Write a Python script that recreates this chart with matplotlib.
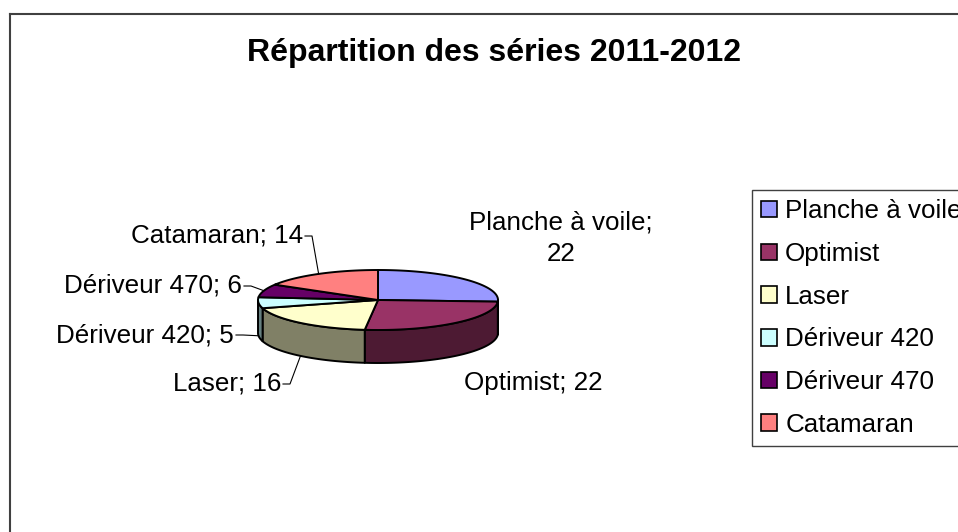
import numpy as np
import matplotlib.pyplot as plt
from matplotlib.patches import Polygon, Rectangle

plt.rcParams['font.family'] = ['Liberation Sans', 'DejaVu Sans']

# data
series = ['Planche à voile', 'Optimist', 'Laser', 'Dériveur 420', 'Dériveur 470', 'Catamaran']
counts = [22, 22, 16, 5, 6, 14]
colors = ['#9999FF', '#993366', '#FFFFCC', '#CCFFFF', '#660066', '#FF8080']
title = 'Répartition des séries 2011-2012'

# layout (pixel coords, y down)
W, H = 958, 532
cx, cy, rx, ry, depth = 378, 300, 120, 30, 33

# label placement: (x, y, ha, leader?)
lab_pos = {
    'Planche à voile': (561, 238, 'center', False),
    'Optimist': (533, 383, 'center', False),
    'Laser': (281, 384, 'right', True),
    'Dériveur 420': (234, 335, 'right', True),
    'Dériveur 470': (242, 286, 'right', True),
    'Catamaran': (303, 236, 'right', True),
}

fig = plt.figure(figsize=(W / 100, H / 100), dpi=100)
ax = fig.add_axes([0, 0, 1, 1])
ax.set_xlim(0, W)
ax.set_ylim(H, 0)
ax.axis('off')

# chart area frame (runs off right / bottom)
ax.plot([10, 10], [H + 5, 14], color='#404040', lw=1.5, solid_capstyle='projecting')
ax.plot([10, W + 5], [14, 14], color='#404040', lw=1.5, solid_capstyle='projecting')

ax.text(494, 53, title, ha='center', va='center', fontsize=23, fontweight='bold')


def pt(a, dy=0):
    # a = clockwise angle from 12 o'clock, degrees
    t = np.radians(90 - a)
    return cx + rx * np.cos(t), cy - ry * np.sin(t) + dy


def darker(c):
    c = c.lstrip('#')
    rgb = [int(c[i:i + 2], 16) / 255 * 0.5 for i in (0, 2, 4)]
    return tuple(rgb)


total = sum(counts)
bounds = np.concatenate([[0], np.cumsum(counts)]) / total * 360

# side walls (front half: 90..270 clockwise)
for i in range(len(counts)):
    a1, a2 = bounds[i], bounds[i + 1]
    s1, s2 = max(a1, 90), min(a2, 270)
    if s2 <= s1:
        continue
    aa = np.linspace(s1, s2, 60)
    top = [pt(a) for a in aa]
    bot = [pt(a, depth) for a in aa[::-1]]
    ax.add_patch(Polygon(top + bot, closed=True, facecolor=darker(colors[i]),
                         edgecolor='black', lw=1.4, joinstyle='round'))

# top faces
for i in range(len(counts)):
    a1, a2 = bounds[i], bounds[i + 1]
    aa = np.linspace(a1, a2, 80)
    verts = [(cx, cy)] + [pt(a) for a in aa]
    ax.add_patch(Polygon(verts, closed=True, facecolor=colors[i],
                         edgecolor='black', lw=1.4, joinstyle='round'))

# data labels
for i, name in enumerate(series):
    x, y, ha, leader = lab_pos[name]
    if name == 'Planche à voile':
        txt = f'{name};\n{counts[i]}'
    else:
        txt = f'{name}; {counts[i]}'
    ax.text(x, y, txt, ha=ha, va='center', fontsize=18.7, multialignment='center',
            linespacing=1.42)
    if leader:
        mid = (bounds[i] + bounds[i + 1]) / 2
        front = 90 < mid < 270
        ex, ey = pt(mid, depth if front else 0)
        ax.plot([x + 2, x + 9, ex], [y, y, ey], color='black', lw=0.8)

# legend (runs off the right edge, as in the original)
handles = [Rectangle((0, 0), 1, 1, facecolor=c, edgecolor='black', lw=1.2) for c in colors]
leg = ax.legend(handles, series, loc='upper left',
                bbox_to_anchor=(752 / W, 1 - 190 / H), fontsize=18.7,
                frameon=True, fancybox=False, shadow=False, framealpha=1,
                edgecolor='#404040', borderpad=0.36, labelspacing=0.72,
                handlelength=0.6, handleheight=0.6, handletextpad=0.32,
                borderaxespad=0)
leg.get_frame().set_linewidth(1.0)

fig.savefig('out.png', dpi=100)
